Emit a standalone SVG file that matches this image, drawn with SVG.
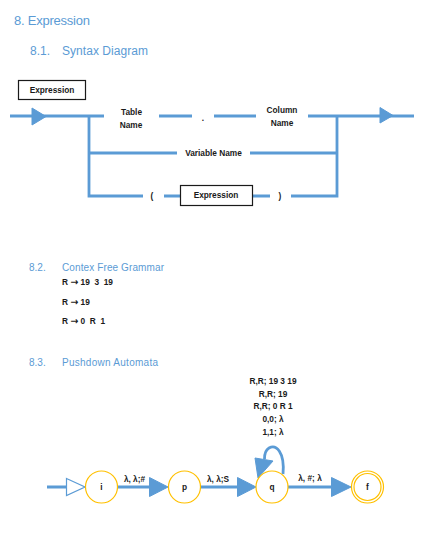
<svg xmlns="http://www.w3.org/2000/svg" width="422" height="543" viewBox="0 0 422 543">
<style>
.h{font-family:"Liberation Sans",Arial,sans-serif;fill:#5b9bd5}
.t{font-family:"Liberation Sans",Arial,sans-serif;font-weight:bold;font-size:8.3px;fill:#1a1a1a;text-anchor:middle}
.g{font-family:"Liberation Sans",Arial,sans-serif;font-weight:bold;font-size:8.3px;fill:#1a1a1a;white-space:pre}
.ar{font-family:"DejaVu Sans",sans-serif;font-weight:bold;font-size:9.5px}
.ln{stroke:#5b9bd5;stroke-width:2.8;fill:none}
.ah{fill:#5b9bd5;stroke:#5b9bd5;stroke-width:1}
.box{fill:#fff;stroke:#1a1a1a;stroke-width:1.2}
.st{fill:#fff;stroke:#ffc000;stroke-width:1.2}
</style>
<rect width="422" height="543" fill="#fff"/>
<g id="headings">
<text class="h" x="14" y="25" font-size="13" textLength="76">8. Expression</text>
<text class="h" x="30" y="55" font-size="12">8.1.</text>
<text class="h" x="62" y="55" font-size="12" textLength="86">Syntax Diagram</text>
<text class="h" x="29" y="271" font-size="10">8.2.</text>
<text class="h" x="62" y="271" font-size="10" textLength="102">Contex Free Grammar</text>
<text class="h" x="29" y="366" font-size="10">8.3.</text>
<text class="h" x="62" y="366" font-size="10" textLength="96">Pushdown Automata</text>
</g>
<g id="connectors">
<path class="ln" d="M10 116H104M159 116H192M214 116H256M308 116H414"/>
<path class="ln" d="M89 116V196H143M164 196H180M252 196H270M291 196H337V116"/>
<path class="ln" d="M89 153H177M250 153H337"/>
<polygon class="ah" points="32,108 46,116.5 32,125"/>
<polygon class="ah" points="380,107.5 393,115.5 380,123"/>
<path class="ln" d="M47 487H66M118 487H150M201 487H237M288 487H331"/>
<polygon fill="#fff" stroke="#5b9bd5" stroke-width="1.2" points="66.5,478.5 85,487 66.5,495.5"/>
<polygon class="ah" points="149.5,477.5 168,487 149.5,496.5"/>
<polygon class="ah" points="237.5,477.5 256,487 237.5,496.5"/>
<polygon class="ah" points="331.5,477.5 351,487 331.5,496.5"/>
<path class="ln" d="M283 474C285 452 276 444 269 448C265.5 450 264.5 455 264.5 459"/>
<polygon class="ah" points="255,458 273,461 258,478"/>
</g>
<g id="expr-box"><rect class="box" x="18.5" y="80.5" width="67" height="19"/><text class="t" x="52" y="93">Expression</text></g>
<g id="table-name"><text class="t" x="131.5" y="115">Table</text><text class="t" x="131" y="128">Name</text></g>
<g id="dot"><text class="t" x="203" y="121">.</text></g>
<g id="column-name"><text class="t" x="282" y="113">Column</text><text class="t" x="282" y="126">Name</text></g>
<g id="variable-name"><text class="t" x="213.5" y="155.5">Variable Name</text></g>
<g id="lparen"><text class="t" x="152" y="199">(</text></g>
<g id="expr-box2"><rect class="box" x="180.5" y="185.5" width="72" height="20"/><text class="t" x="216" y="198">Expression</text></g>
<g id="rparen"><text class="t" x="280" y="199">)</text></g>
<g id="grammar">
<text class="g" x="62" y="285">R <tspan class="ar">→</tspan> 19  3  19</text>
<text class="g" x="62" y="305">R <tspan class="ar">→</tspan> 19</text>
<text class="g" x="62" y="324">R <tspan class="ar">→</tspan> 0  R  1</text>
</g>
<g id="state-i"><circle class="st" cx="101.5" cy="487" r="16"/><text class="t" x="101.5" y="490">i</text></g>
<g id="state-p"><circle class="st" cx="184.5" cy="487" r="16"/><text class="t" x="184.5" y="490">p</text></g>
<g id="state-q"><circle class="st" cx="272" cy="487" r="16"/><text class="t" x="272" y="490">q</text></g>
<g id="state-f"><circle class="st" cx="367.5" cy="487" r="16"/><circle class="st" cx="367.5" cy="487" r="13.5"/><text class="t" x="367.5" y="490">f</text></g>
<g id="labels">
<text class="t" x="134.5" y="482">λ, λ;#</text>
<text class="t" x="218" y="482">λ, λ;S</text>
<text class="t" x="310" y="481">λ, #; λ</text>
<text class="t" x="273" y="384">R,R; 19 3 19</text>
<text class="t" x="273" y="396.5">R,R; 19</text>
<text class="t" x="273" y="409">R,R; 0 R 1</text>
<text class="t" x="273" y="421.5">0,0; λ</text>
<text class="t" x="273" y="434.5">1,1; λ</text>
</g>
</svg>
